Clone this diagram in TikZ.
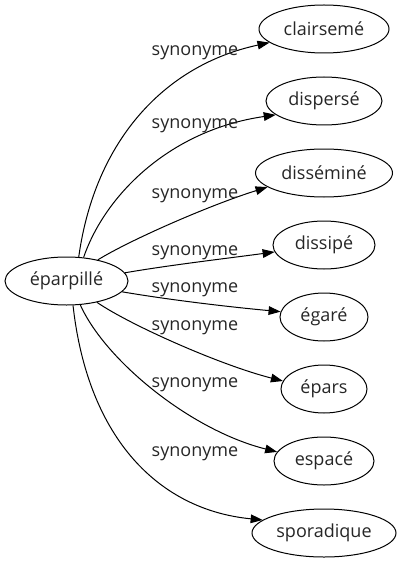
\documentclass[tikz,border=0pt]{standalone}
\usepackage{fontspec}
\setmainfont{Open Sans}
\usetikzlibrary{arrows.meta,shapes.geometric}
\begin{document}
\begin{tikzpicture}[x=0.75pt,y=-0.75pt,
  every node/.style={font=\fontsize{13.5}{16}\selectfont,text=black!85},
  word/.style={draw=black,ellipse,inner sep=0pt,minimum height=36pt,line width=0.75pt},
  lab/.style={anchor=base,inner sep=0pt},
  link/.style={line width=0.75pt,-{Triangle[length=9pt,width=6.5pt]}}]
\useasboundingbox (0,0) rectangle (401,563);
\node[word,minimum width=92.25pt] (src) at (66.5,281) {éparpillé};
\node[word,minimum width=97.5pt] (t1) at (324,29) {clairsemé};
\node[word,minimum width=87pt] (t2) at (324,101) {dispersé};
\node[word,minimum width=102.75pt] (t3) at (324,173) {disséminé};
\node[word,minimum width=76.5pt] (t4) at (324,245) {dissipé};
\node[word,minimum width=66pt] (t5) at (324,317) {égaré};
\node[word,minimum width=64.5pt] (t6) at (324,389) {épars};
\node[word,minimum width=75pt] (t7) at (324,461) {espacé};
\node[word,minimum width=108pt] (t8) at (324,533) {sporadique};
\draw[link] (src.63) .. controls (95,140) and (165,65) .. (t1.194.5);
\draw[link] (src.54) .. controls (105,195) and (170,130) .. (t2.196.6);
\draw[link] (src.34) .. controls (130,240) and (210,205) .. (t3.194.5);
\draw[link] (src.8.5) .. controls (170,265) and (230,258) .. (t4.188);
\draw[link] (src.-11) .. controls (170,300) and (230,307) .. (t5.173.4);
\draw[link] (src.-35) .. controls (130,325) and (220,365) .. (t6.169);
\draw[link] (src.-60) .. controls (105,360) and (190,430) .. (t7.169);
\draw[link] (src.-75) .. controls (88,440) and (160,510) .. (t8.168);
\node[lab] (l1) at (195,56) {synonyme};
\node[lab] (l2) at (195,128) {synonyme};
\node[lab] (l3) at (195,198) {synonyme};
\node[lab] (l4) at (195,255) {synonyme};
\node[lab] (l5) at (195,292) {synonyme};
\node[lab] (l6) at (195,330) {synonyme};
\node[lab] (l7) at (195,387) {synonyme};
\node[lab] (l8) at (195,456) {synonyme};
\end{tikzpicture}
\end{document}
